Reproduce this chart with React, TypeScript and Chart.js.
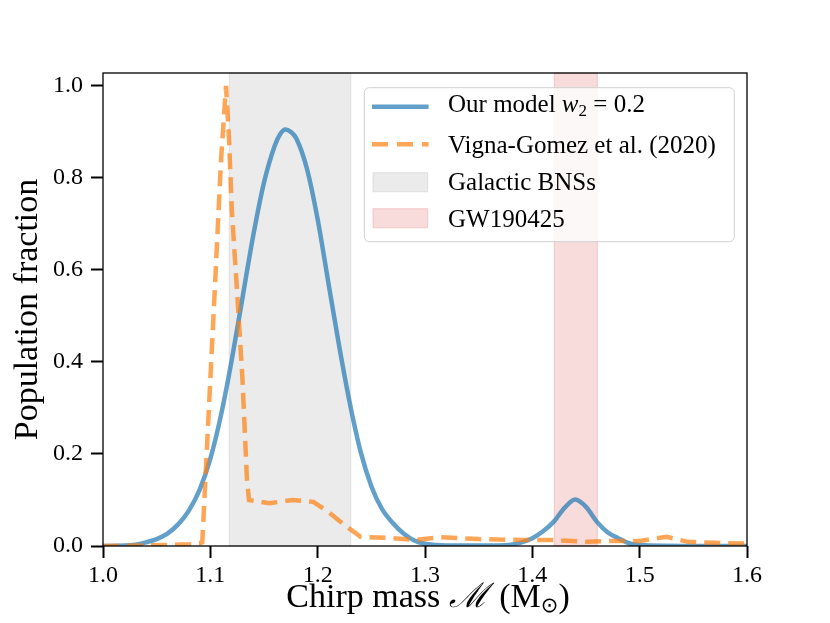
import React, { useEffect, useRef } from "react";
import { Chart, registerables } from "chart.js";

Chart.register(...registerables);

// ---- data ----
const modelMass = [
  1.0, 1.02, 1.03, 1.04, 1.05, 1.06, 1.07, 1.08, 1.09, 1.1, 1.11, 1.12, 1.13, 1.14, 1.15,
  1.16, 1.165, 1.17, 1.175, 1.18, 1.19, 1.2, 1.21, 1.22, 1.23, 1.24, 1.25, 1.26, 1.27,
  1.28, 1.29, 1.3, 1.32, 1.35, 1.38, 1.39, 1.4, 1.41, 1.42, 1.43, 1.44, 1.45, 1.46, 1.47,
  1.48, 1.49, 1.5, 1.55, 1.6,
];
const modelFraction = [
  0.0, 0.001, 0.003, 0.008, 0.015, 0.027, 0.047, 0.077, 0.122, 0.19, 0.285, 0.405, 0.54,
  0.675, 0.79, 0.87, 0.895, 0.905, 0.9, 0.886, 0.82, 0.71, 0.572, 0.435, 0.31, 0.205, 0.13,
  0.08, 0.05, 0.027, 0.012, 0.005, 0.001, 0.001, 0.003, 0.008, 0.017, 0.032, 0.053, 0.083,
  0.101, 0.085, 0.053, 0.03, 0.017, 0.006, 0.002, 0.0, 0.0,
];
const vignaMass = [
  1.0, 1.03, 1.06, 1.08, 1.09, 1.0925, 1.097, 1.104, 1.11, 1.1146, 1.1175, 1.12, 1.125,
  1.13, 1.134, 1.136, 1.155, 1.177, 1.196, 1.211, 1.227, 1.24, 1.27, 1.29, 1.314, 1.35,
  1.39, 1.42, 1.45, 1.475, 1.5, 1.525, 1.545, 1.57, 1.6,
];
const vignaFraction = [
  0.0, 0.001, 0.002, 0.004, 0.006, 0.008, 0.22, 0.55, 0.84, 1.0, 0.88, 0.73, 0.55, 0.36,
  0.15, 0.1, 0.093, 0.1, 0.096, 0.072, 0.042, 0.02, 0.017, 0.013, 0.019, 0.015, 0.013,
  0.013, 0.009, 0.011, 0.011, 0.02, 0.009, 0.007, 0.005,
];
const galacticBand = [1.1177, 1.2308];
const gwBand = [1.4205, 1.4606];
const xTicks = [1.0, 1.1, 1.2, 1.3, 1.4, 1.5, 1.6];
const yTicks = [0.0, 0.2, 0.4, 0.6, 0.8, 1.0];
const legendLabels = ["Our model", "Vigna-Gomez et al. (2020)", "Galactic BNSs", "GW190425"];
const xTitleText = ["Chirp mass ", "ℳ", " (M", "⊙", ")"];
const yTitleText = "Population fraction";

const SERIF = "'Liberation Serif', 'DejaVu Serif', serif";
const BLUE = "rgba(31,119,180,0.7)";
const ORANGE = "rgba(255,127,14,0.7)";
const GRAY_FILL = "rgba(128,128,128,0.16)";
const PINK_FILL = "rgba(214,39,40,0.16)";

type Seg = { text: string; font: string; dy?: number };

function drawSegments(ctx: CanvasRenderingContext2D, segs: Seg[], x: number, y: number) {
  let cx = x;
  for (const s of segs) {
    ctx.font = s.font;
    ctx.fillText(s.text, cx, y + (s.dy || 0));
    cx += ctx.measureText(s.text).width;
  }
  return cx;
}
function segWidth(ctx: CanvasRenderingContext2D, segs: Seg[]) {
  let w = 0;
  for (const s of segs) {
    ctx.font = s.font;
    w += ctx.measureText(s.text).width;
  }
  return w;
}

const bandsPlugin = {
  id: "bands",
  beforeDatasetsDraw(chart: any) {
    const { ctx, chartArea, scales } = chart;
    const bands: [number[], string][] = [
      [galacticBand, GRAY_FILL],
      [gwBand, PINK_FILL],
    ];
    ctx.save();
    for (const [b, c] of bands) {
      const x1 = scales.x.getPixelForValue(b[0]);
      const x2 = scales.x.getPixelForValue(b[1]);
      ctx.fillStyle = c;
      ctx.fillRect(x1, chartArea.top, x2 - x1, chartArea.bottom - chartArea.top);
      ctx.strokeStyle = c;
      ctx.lineWidth = 1.2;
      ctx.strokeRect(x1, chartArea.top, x2 - x1, chartArea.bottom - chartArea.top);
    }
    ctx.restore();
  },
};

const framePlugin = {
  id: "frame",
  afterDatasetsDraw(chart: any) {
    const { ctx, chartArea } = chart;
    ctx.save();
    ctx.strokeStyle = "#000";
    ctx.lineWidth = 1.3;
    ctx.strokeRect(chartArea.left, chartArea.top, chartArea.right - chartArea.left, chartArea.bottom - chartArea.top);
    ctx.restore();
  },
};

const legendPlugin = {
  id: "customLegend",
  afterDraw(chart: any) {
    const { ctx, chartArea } = chart;
    const w = 370;
    const h = 154;
    const x0 = chartArea.right - 12.7 - w;
    const y0 = chartArea.top + 14.7;
    const r = 5;
    ctx.save();
    ctx.beginPath();
    ctx.moveTo(x0 + r, y0);
    ctx.lineTo(x0 + w - r, y0);
    ctx.arcTo(x0 + w, y0, x0 + w, y0 + r, r);
    ctx.lineTo(x0 + w, y0 + h - r);
    ctx.arcTo(x0 + w, y0 + h, x0 + w - r, y0 + h, r);
    ctx.lineTo(x0 + r, y0 + h);
    ctx.arcTo(x0, y0 + h, x0, y0 + h - r, r);
    ctx.lineTo(x0, y0 + r);
    ctx.arcTo(x0, y0, x0 + r, y0, r);
    ctx.closePath();
    ctx.fillStyle = "rgba(255,255,255,0.8)";
    ctx.fill();
    ctx.strokeStyle = "#d0d0d0";
    ctx.lineWidth = 1;
    ctx.stroke();

    const hx1 = x0 + 7.7;
    const hx2 = x0 + 64.3;
    const tx = x0 + 83.7;
    // row 1: solid blue
    ctx.beginPath();
    ctx.strokeStyle = BLUE;
    ctx.lineWidth = 4.5;
    ctx.moveTo(hx1, y0 + 19);
    ctx.lineTo(hx2, y0 + 19);
    ctx.stroke();
    // row 2: dashed orange
    ctx.beginPath();
    ctx.strokeStyle = ORANGE;
    ctx.setLineDash([16, 9]);
    ctx.moveTo(hx1, y0 + 56.6);
    ctx.lineTo(hx2, y0 + 56.6);
    ctx.stroke();
    ctx.setLineDash([]);
    // row 3, 4: patches
    ctx.lineWidth = 1.2;
    ctx.fillStyle = GRAY_FILL;
    ctx.strokeStyle = GRAY_FILL;
    ctx.fillRect(hx1 + 1, y0 + 85, hx2 - hx1 - 2, 19);
    ctx.strokeRect(hx1 + 1, y0 + 85, hx2 - hx1 - 2, 19);
    ctx.fillStyle = PINK_FILL;
    ctx.strokeStyle = PINK_FILL;
    ctx.fillRect(hx1 + 1, y0 + 121, hx2 - hx1 - 2, 19);
    ctx.strokeRect(hx1 + 1, y0 + 121, hx2 - hx1 - 2, 19);

    ctx.fillStyle = "#000";
    ctx.textBaseline = "alphabetic";
    ctx.textAlign = "left";
    const f = `25px ${SERIF}`;
    drawSegments(
      ctx,
      [
        { text: legendLabels[0] + " ", font: f },
        { text: "w", font: `italic 25px ${SERIF}` },
        { text: "2", font: `17px ${SERIF}`, dy: 4 },
        { text: " = 0.2", font: f },
      ],
      tx,
      y0 + 24.6
    );
    drawSegments(ctx, [{ text: legendLabels[1], font: f }], tx, y0 + 65.6);
    drawSegments(ctx, [{ text: legendLabels[2], font: f }], tx, y0 + 102.3);
    drawSegments(ctx, [{ text: legendLabels[3], font: f }], tx, y0 + 139);
    ctx.restore();
  },
};

const xTitlePlugin = {
  id: "xTitle",
  afterDraw(chart: any) {
    const { ctx, chartArea } = chart;
    const big = `34px ${SERIF}`;
    const segs: Seg[] = [
      { text: xTitleText[0], font: big },
      { text: xTitleText[1], font: `italic 34px ${SERIF}` },
      { text: " ", font: `12px ${SERIF}` },
      { text: xTitleText[2], font: big },
      { text: xTitleText[3], font: `21px 'DejaVu Sans', ${SERIF}`, dy: 5 },
      { text: xTitleText[4], font: big },
    ];
    ctx.save();
    ctx.fillStyle = "#000";
    ctx.textBaseline = "alphabetic";
    ctx.textAlign = "left";
    const wTot = segWidth(ctx, segs);
    const cx = (chartArea.left + chartArea.right) / 2 + 3;
    drawSegments(ctx, segs, cx - wTot / 2, chartArea.bottom + 60.7);
    ctx.restore();
  },
};

export default function App() {
  const ref = useRef<HTMLCanvasElement>(null);
  useEffect(() => {
    if (!ref.current) return;
    const tickFont = { family: SERIF, size: 24 };
    const chart = new Chart(ref.current, {
      type: "line",
      data: {
        datasets: [
          {
            label: legendLabels[0],
            data: modelMass.map((m, i) => ({ x: m, y: modelFraction[i] })),
            borderColor: BLUE,
            borderWidth: 4.5,
            pointRadius: 0,
            cubicInterpolationMode: "monotone",
            fill: false,
            borderJoinStyle: "round",
            order: 2,
          },
          {
            label: legendLabels[1],
            data: vignaMass.map((m, i) => ({ x: m, y: vignaFraction[i] })),
            borderColor: ORANGE,
            borderWidth: 4.5,
            borderDash: [16, 8],
            pointRadius: 0,
            tension: 0,
            fill: false,
            borderJoinStyle: "miter",
            order: 1,
          },
        ],
      },
      options: {
        animation: false,
        responsive: true,
        maintainAspectRatio: false,
        layout: { padding: { top: 73, right: 83, left: 0, bottom: 0 } },
        plugins: { legend: { display: false }, tooltip: { enabled: false } },
        events: [],
        scales: {
          x: {
            type: "linear",
            min: 1.0,
            max: 1.6,
            afterBuildTicks: (s: any) => {
              s.ticks = xTicks.map((v) => ({ value: v }));
            },
            afterFit: (s: any) => {
              s.height = 77;
            },
            ticks: {
              callback: (v: any) => Number(v).toFixed(1),
              font: tickFont,
              color: "#000",
              padding: 3,
              maxRotation: 0,
              autoSkip: false,
            },
            grid: {
              display: true,
              drawOnChartArea: false,
              drawTicks: true,
              tickLength: 12,
              tickWidth: 2,
              tickColor: "#000",
            },
            border: { display: false },
          },
          y: {
            type: "linear",
            min: 0,
            max: 1.028,
            afterBuildTicks: (s: any) => {
              s.ticks = yTicks.map((v) => ({ value: v }));
            },
            afterFit: (s: any) => {
              s.width = 103;
            },
            ticks: {
              callback: (v: any) => Number(v).toFixed(1),
              font: tickFont,
              color: "#000",
              padding: 8,
              autoSkip: false,
            },
            grid: {
              display: true,
              drawOnChartArea: false,
              drawTicks: true,
              tickLength: 12,
              tickWidth: 2,
              tickColor: "#000",
            },
            border: { display: false },
            title: {
              display: true,
              text: yTitleText,
              color: "#000",
              font: { family: SERIF, size: 34 },
              padding: { top: 8, bottom: 0 },
            },
          },
        },
      },
      plugins: [bandsPlugin, framePlugin, legendPlugin, xTitlePlugin],
    } as any);
    return () => chart.destroy();
  }, []);
  return (
    <div style={{ position: "fixed", left: 0, top: 0, width: 830, height: 623, background: "#fff" }}>
      <canvas ref={ref} />
    </div>
  );
}
